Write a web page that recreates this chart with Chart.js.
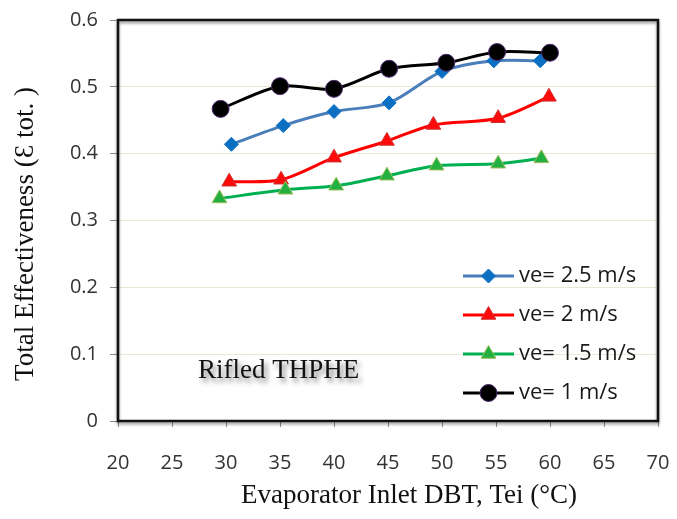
<!DOCTYPE html>
<html>
<head>
<meta charset="utf-8">
<script src="https://cdn.jsdelivr.net/npm/chart.js@4/dist/chart.umd.min.js"></script>
<style>
  html, body { margin: 0; padding: 0; background: #fff; }
  #wrap { width: 677px; height: 519px; position: relative; }
</style>
</head>
<body>
<div id="wrap"><canvas id="c" width="677" height="519"></canvas></div>
<script>
// Evaporator inlet dry-bulb temperature (°C) and total effectiveness per air velocity
const seriesNames = ['ve= 2.5 m/s', 've= 2 m/s', 've= 1.5 m/s', 've= 1 m/s'];

const tempV25 = [30.5, 35.3, 40.0, 45.1, 50.0, 54.8, 59.1];
const effV25  = [0.414, 0.442, 0.463, 0.476, 0.523, 0.539, 0.539];

const tempV20 = [30.3, 35.1, 40.0, 44.9, 49.2, 55.2, 59.9];
const effV20  = [0.358, 0.361, 0.394, 0.419, 0.443, 0.453, 0.485];

const tempV15 = [29.4, 35.5, 40.2, 44.9, 49.5, 55.2, 59.2];
const effV15  = [0.333, 0.346, 0.352, 0.367, 0.382, 0.385, 0.393];

const tempV10 = [29.5, 35.0, 40.0, 45.1, 50.4, 55.1, 60.0];
const effV10  = [0.467, 0.501, 0.497, 0.527, 0.536, 0.552, 0.551];

const xTicks = [20, 25, 30, 35, 40, 45, 50, 55, 60, 65, 70];
const yTicks = [0, 0.1, 0.2, 0.3, 0.4, 0.5, 0.6];

const xTitle = 'Evaporator Inlet DBT, Tei (°C)';
const yTitle = 'Total Effectiveness (Ɛ tot. )';
const noteText = 'Rifled THPHE';

const pairs = (xs, ys) => xs.map((x, i) => ({ x: x, y: ys[i] }));

const styles = [
  { line: '#4a7ebb', fill: '#0b6fc2', border: '#0b6fc2', shape: 'rectRot', r: 7, order: 3 },
  { line: '#ff0000', fill: '#ff0a0a', border: '#d03030', shape: 'triangle', r: 8.5, order: 2 },
  { line: '#00b050', fill: '#22b040', border: '#9bbb59', shape: 'triangle', r: 8.5, order: 1 },
  { line: '#000000', fill: '#000000', border: '#4b2a6e', shape: 'circle', r: 8.5, order: 0 }
];
const seriesData = [
  pairs(tempV25, effV25),
  pairs(tempV20, effV20),
  pairs(tempV15, effV15),
  pairs(tempV10, effV10)
];

const datasets = seriesNames.map((name, i) => ({
  label: name,
  data: seriesData[i],
  borderColor: styles[i].line,
  borderWidth: 3,
  backgroundColor: styles[i].fill,
  pointStyle: styles[i].shape,
  pointRadius: styles[i].r,
  pointBackgroundColor: styles[i].fill,
  pointBorderColor: styles[i].border,
  pointBorderWidth: 1,
  tension: 0.3,
  order: styles[i].order
}));

// Plot frame with a soft drop shadow
const framePlugin = {
  id: 'frame',
  beforeDatasetsDraw(chart) {
    const { ctx, chartArea: a } = chart;
    ctx.save();
    ctx.shadowColor = 'rgba(0,0,0,0.45)';
    ctx.shadowBlur = 3;
    ctx.shadowOffsetX = 0;
    ctx.shadowOffsetY = 2;
    ctx.strokeStyle = '#111';
    ctx.lineWidth = 2.5;
    ctx.strokeRect(a.left, a.top, a.right - a.left, a.bottom - a.top);
    ctx.restore();
  }
};

// Axis titles in a serif face
const titlesPlugin = {
  id: 'axisTitles',
  afterDraw(chart) {
    const { ctx, chartArea: a } = chart;
    ctx.save();
    ctx.fillStyle = '#111';
    ctx.font = '27px "Liberation Serif"';
    ctx.textAlign = 'center';
    ctx.textBaseline = 'alphabetic';
    ctx.fillText(xTitle, 409, a.bottom + 82);
    ctx.translate(33, 234);
    ctx.rotate(-Math.PI / 2);
    ctx.fillText(yTitle, 0, 0);
    ctx.restore();
  }
};

// Legend drawn inside the plot: line segment with marker, then label
const insideLegend = {
  id: 'insideLegend',
  afterDatasetsDraw(chart) {
    const { ctx } = chart;
    const x0 = 463, x1 = x0 + 51, tx = x1 + 5;
    const rowY = [276, 315, 354, 393];
    ctx.save();
    chart.data.datasets.forEach((ds, i) => {
      const y = rowY[i];
      ctx.strokeStyle = ds.borderColor;
      ctx.lineWidth = 3;
      ctx.beginPath();
      ctx.moveTo(x0, y);
      ctx.lineTo(x1, y);
      ctx.stroke();
      ctx.fillStyle = ds.pointBackgroundColor;
      ctx.strokeStyle = ds.pointBorderColor;
      ctx.lineWidth = 1;
      Chart.helpers.drawPoint(ctx, { pointStyle: ds.pointStyle, radius: ds.pointRadius, rotation: 0, borderWidth: 1 }, (x0 + x1) / 2, y);
      ctx.fillStyle = '#1a1a1a';
      ctx.font = '22px "Open Sans"';
      ctx.textBaseline = 'middle';
      ctx.textAlign = 'left';
      ctx.fillText(ds.label, tx, y);
    });
    ctx.restore();
  }
};

// Annotation label with blurred shadow
const notePlugin = {
  id: 'note',
  afterDatasetsDraw(chart) {
    const { ctx } = chart;
    ctx.save();
    ctx.font = '27px "Liberation Serif"';
    ctx.textBaseline = 'alphabetic';
    ctx.textAlign = 'left';
    ctx.shadowColor = 'rgba(0,0,0,0.5)';
    ctx.shadowBlur = 5;
    ctx.shadowOffsetX = 3;
    ctx.shadowOffsetY = 4;
    ctx.fillStyle = '#111';
    ctx.fillText(noteText, 198, 378);
    ctx.restore();
  }
};

new Chart(document.getElementById('c'), {
  type: 'line',
  data: { datasets: datasets },
  plugins: [framePlugin, insideLegend, notePlugin, titlesPlugin],
  options: {
    responsive: false,
    animation: false,
    events: [],
    layout: { padding: { top: 0, right: 19, left: 0, bottom: 0 } },
    plugins: { legend: { display: false }, tooltip: { enabled: false } },
    scales: {
      x: {
        type: 'linear',
        min: xTicks[0],
        max: xTicks[xTicks.length - 1],
        afterBuildTicks(scale) { scale.ticks = xTicks.map(v => ({ value: v })); },
        afterFit(scale) { scale.height = 98; },
        border: { display: false },
        grid: { drawOnChartArea: false, drawTicks: true, tickLength: 6, color: '#8c8c8c' },
        ticks: { padding: 3, color: '#333', font: { family: 'Open Sans', size: 20, lineHeight: 3.3 } }
      },
      y: {
        type: 'linear',
        min: yTicks[0],
        max: yTicks[yTicks.length - 1],
        afterBuildTicks(scale) { scale.ticks = yTicks.map(v => ({ value: v })); },
        afterFit(scale) { scale.width = 118; },
        border: { display: false },
        grid: { color: '#ebe8d8', lineWidth: 1, drawTicks: true, tickLength: 8, tickColor: '#8c8c8c' },
        ticks: {
          padding: 12,
          color: '#333',
          font: { family: 'Open Sans', size: 20, lineHeight: 0.8 },
          callback: v => String(Math.round(v * 10) / 10)
        }
      }
    }
  }
});
</script>
</body>
</html>
